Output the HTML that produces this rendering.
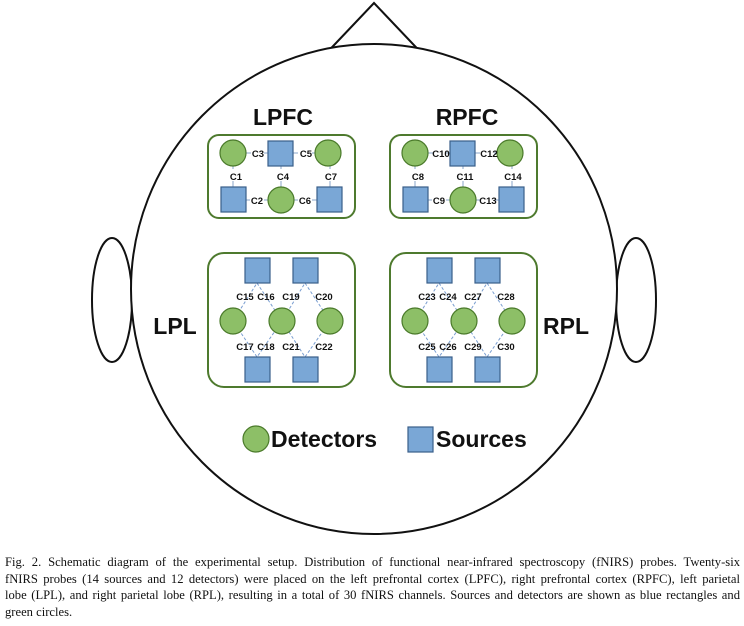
<!DOCTYPE html>
<html><head><meta charset="utf-8"><style>
html,body{margin:0;padding:0;background:#fff;}
body{width:744px;height:626px;position:relative;overflow:hidden;}
.cap{position:absolute;left:5px;width:735px;font-family:"Liberation Serif",serif;font-size:12.6px;color:#111;white-space:nowrap;text-align:justify;text-align-last:justify;}
.cap.last{text-align-last:left;}
</style></head><body>
<svg width="744" height="626" style="position:absolute;left:0;top:0" xmlns="http://www.w3.org/2000/svg">
<g fill="#fff" stroke="#111" stroke-width="2">
<ellipse cx="112" cy="300" rx="20" ry="62"/>
<ellipse cx="636" cy="300" rx="20" ry="62"/>
<polyline points="318,62 374,3 430,62" fill="none"/>
<ellipse cx="374" cy="289" rx="243" ry="245"/>
</g>
<defs>
<g id="pfc">
<rect x="208" y="135" width="147" height="83" rx="11" fill="none" stroke="#4e7a2e" stroke-width="2"/>
<g stroke="#8aa6c8" stroke-width="1">
<line x1="246" y1="153" x2="251" y2="153"/><line x1="264" y1="153" x2="268" y2="153"/>
<line x1="293" y1="153" x2="298" y2="153"/><line x1="312" y1="153" x2="315" y2="153"/>
<line x1="233" y1="166" x2="233" y2="169"/><line x1="233" y1="181" x2="233" y2="187"/>
<line x1="281" y1="166" x2="281" y2="169"/><line x1="281" y1="181" x2="281" y2="187"/>
<line x1="330" y1="166" x2="330" y2="169"/><line x1="330" y1="181" x2="330" y2="187"/>
<line x1="246" y1="200" x2="250" y2="200"/><line x1="264" y1="200" x2="268" y2="200"/>
<line x1="294" y1="200" x2="298" y2="200"/><line x1="312" y1="200" x2="317" y2="200"/>
</g>
<g fill="#8dbf67" stroke="#4a7a2a" stroke-width="1.2">
<circle cx="233" cy="153" r="13"/><circle cx="328" cy="153" r="13"/><circle cx="281" cy="200" r="13"/>
</g>
<g fill="#7aa7d6" stroke="#3a5f8a" stroke-width="1.2">
<rect x="268" y="141" width="25" height="25"/><rect x="221" y="187" width="25" height="25"/><rect x="317" y="187" width="25" height="25"/>
</g>
</g>
<g id="pl">
<rect x="208" y="253" width="147" height="134" rx="16" fill="none" stroke="#4e7a2e" stroke-width="2"/>
<g stroke="#7a9ed0" stroke-width="1" stroke-dasharray="3,2" fill="none">
<polyline points="233,321 257,283 282,321 305,283 330,321"/>
<polyline points="233,321 257,357 282,321 305,357 330,321"/>
</g>
<g fill="#8dbf67" stroke="#4a7a2a" stroke-width="1.2">
<circle cx="233" cy="321" r="13"/><circle cx="282" cy="321" r="13"/><circle cx="330" cy="321" r="13"/>
</g>
<g fill="#7aa7d6" stroke="#3a5f8a" stroke-width="1.2">
<rect x="245" y="258" width="25" height="25"/><rect x="293" y="258" width="25" height="25"/>
<rect x="245" y="357" width="25" height="25"/><rect x="293" y="357" width="25" height="25"/>
</g>
</g>
</defs>
<use href="#pfc"/><use href="#pfc" x="182"/>
<use href="#pl"/><use href="#pl" x="182"/>
<g font-family="Liberation Sans,sans-serif" font-weight="bold" font-size="9.5" fill="#111" text-anchor="middle">
<text x="258" y="157">C3</text><text x="306" y="157">C5</text>
<text x="236" y="180">C1</text><text x="283" y="180">C4</text><text x="331" y="180">C7</text>
<text x="257" y="204">C2</text><text x="305" y="204">C6</text>
<text x="441" y="157">C10</text><text x="489" y="157">C12</text>
<text x="418" y="180">C8</text><text x="465" y="180">C11</text><text x="513" y="180">C14</text>
<text x="439" y="204">C9</text><text x="488" y="204">C13</text>
<text x="245" y="300">C15</text><text x="266" y="300">C16</text><text x="291" y="300">C19</text><text x="324" y="300">C20</text>
<text x="245" y="350">C17</text><text x="266" y="350">C18</text><text x="291" y="350">C21</text><text x="324" y="350">C22</text>
<text x="427" y="300">C23</text><text x="448" y="300">C24</text><text x="473" y="300">C27</text><text x="506" y="300">C28</text>
<text x="427" y="350">C25</text><text x="448" y="350">C26</text><text x="473" y="350">C29</text><text x="506" y="350">C30</text>
</g>
<g font-family="Liberation Sans,sans-serif" font-weight="bold" font-size="23" fill="#111" text-anchor="middle">
<text x="283" y="125">LPFC</text><text x="467" y="125">RPFC</text>
<text x="175" y="334">LPL</text><text x="566" y="334">RPL</text>
</g>
<circle cx="256" cy="439" r="13" fill="#8dbf67" stroke="#4a7a2a" stroke-width="1.2"/>
<rect x="408" y="427" width="25" height="25" fill="#7aa7d6" stroke="#3a5f8a" stroke-width="1.2"/>
<g font-family="Liberation Sans,sans-serif" font-weight="bold" font-size="23" fill="#111">
<text x="271" y="447">Detectors</text><text x="436" y="447">Sources</text>
</g>
</svg>
<div class="cap" style="top:555px">Fig. 2. Schematic diagram of the experimental setup. Distribution of functional near-infrared spectroscopy (fNIRS) probes. Twenty-six</div>
<div class="cap" style="top:571.5px">fNIRS probes (14 sources and 12 detectors) were placed on the left prefrontal cortex (LPFC), right prefrontal cortex (RPFC), left parietal</div>
<div class="cap" style="top:588px">lobe (LPL), and right parietal lobe (RPL), resulting in a total of 30 fNIRS channels. Sources and detectors are shown as blue rectangles and</div>
<div class="cap last" style="top:604.5px">green circles.</div>
</body></html>
